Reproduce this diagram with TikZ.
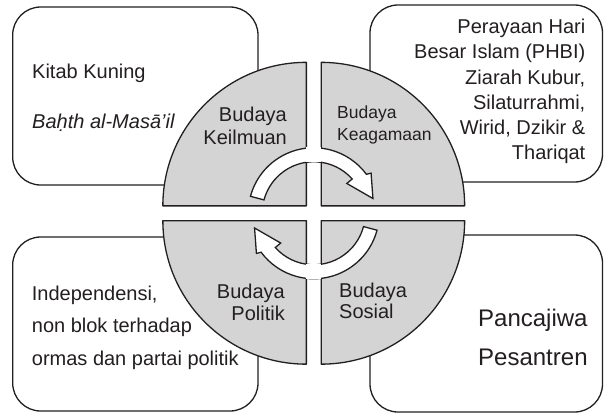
\documentclass[tikz,border=0pt]{standalone}
\usepackage{fontspec}
\setmainfont{Liberation Sans}
\definecolor{quad}{RGB}{212,212,212}
\definecolor{ink}{RGB}{35,31,32}
\begin{document}
\begin{tikzpicture}[x=1pt,y=-1pt,
  box/.style={draw=ink, line width=1.3pt, rounded corners=28pt, fill=white, inner sep=0pt},
  txt/.style={inner sep=0pt, text=ink, font=\fontsize{20}{24}\selectfont},
  smalltxt/.style={inner sep=0pt, text=ink, font=\fontsize{17.5}{21}\selectfont},
  bigtxt/.style={inner sep=0pt, text=ink, font=\fontsize{24}{29}\selectfont},
  quadrant/.style={fill=quad, draw=ink, line width=1.3pt, line join=round},
  arrowshape/.style={fill=white, draw=ink, line width=1.3pt, line join=miter}]
\useasboundingbox (0,0) rectangle (604,413);
\fill[white] (0,0) rectangle (604,413);

% outer boxes
\node[box, minimum width=245.3pt, minimum height=178pt] (tlbox) at (135.35,96) {};
\node[box, minimum width=232.5pt, minimum height=177pt] (trbox) at (486.25,93.5) {};
\node[box, minimum width=245.3pt, minimum height=174pt] (blbox) at (135.35,324) {};
\node[box, minimum width=232.5pt, minimum height=177pt] (brbox) at (486.25,323.5) {};

% central quarter disks and circular arrows
\begin{scope}[shift={(313.75,213.25)}, yscale=-1]
  \def\g{7.4}
  \def\R{143.5}
  \draw[quadrant] (-\g,\g) -- ++(-\R,0) arc[start angle=180, end angle=90, radius=\R] -- cycle;
  \draw[quadrant] (\g,\g) -- ++(0,\R) arc[start angle=90, end angle=0, radius=\R] -- cycle;
  \draw[quadrant] (\g,-\g) -- ++(\R,0) arc[start angle=0, end angle=-90, radius=\R] -- cycle;
  \draw[quadrant] (-\g,-\g) -- ++(0,-\R) arc[start angle=-90, end angle=-180, radius=\R] -- cycle;
  \foreach \rot in {0,180}{
    \begin{scope}[rotate=\rot]
      \draw[arrowshape] (165:65.5) arc[start angle=165, end angle=36.5, radius=65.5]
        -- (35:70) -- (14:61) -- (42:44.5) -- (41.7:51.5)
        arc[start angle=41.7, end angle=165, radius=51.5] -- cycle;
      \fill[white] (-\g,50.8) rectangle (\g,66.2);
    \end{scope}
  }
\end{scope}

% texts in the outer boxes
\node[txt, anchor=base west] (kitab) at (32,78.3) {Kitab Kuning};
\node[txt, anchor=base west] (bahth) at (32,128.3) {\itshape Baḥth al-Masā’il};

\node[txt, anchor=base east] (tr1) at (585.5,33.3) {Perayaan Hari};
\node[txt, anchor=base east] (tr2) at (585.5,58.6) {Besar Islam (PHBI)};
\node[txt, anchor=base east] (tr3) at (585.5,84) {Ziarah Kubur,};
\node[txt, anchor=base east] (tr4) at (585.5,109.3) {Silaturrahmi,};
\node[txt, anchor=base east] (tr5) at (585.5,134.3) {Wirid, Dzikir \&};
\node[txt, anchor=base east] (tr6) at (585.5,159.3) {Thariqat};

\node[txt, anchor=base west] (bl1) at (31.7,300) {Independensi,};
\node[txt, anchor=base west] (bl2) at (31.7,332) {non blok terhadap};
\node[txt, anchor=base west] (bl3) at (31.7,365) {ormas dan partai politik};

\node[bigtxt, anchor=base west] (br1) at (478,326.7) {Pancajiwa};
\node[bigtxt, anchor=base west] (br2) at (478,365) {Pesantren};

% quadrant labels
\node[txt, anchor=base east] (q1a) at (287,121.7) {Budaya};
\node[txt, anchor=base east] (q1b) at (287,144.3) {Keilmuan};
\node[smalltxt, anchor=base west] (q2a) at (337,118) {Budaya};
\node[smalltxt, anchor=base west] (q2b) at (337,140) {Keagamaan};
\node[txt, anchor=base east] (q3a) at (285,298) {Budaya};
\node[txt, anchor=base east] (q3b) at (285,320) {Politik};
\node[txt, anchor=base west] (q4a) at (339,297) {Budaya};
\node[txt, anchor=base west] (q4b) at (339,318.5) {Sosial};
\end{tikzpicture}
\end{document}
